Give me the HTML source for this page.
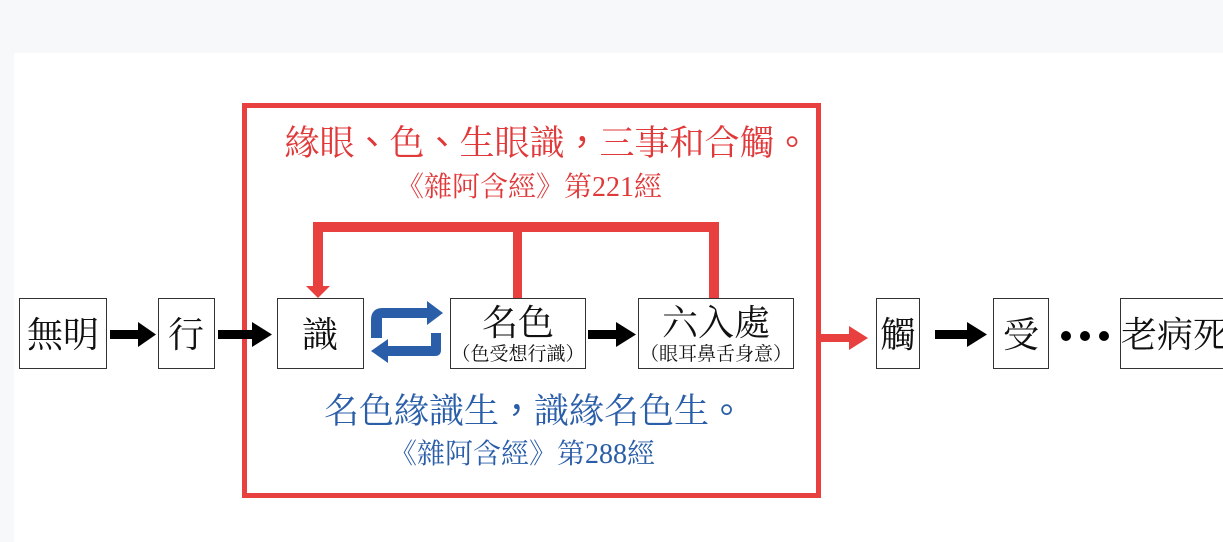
<!DOCTYPE html>
<html><head><meta charset="utf-8"><style>
html,body{margin:0;padding:0;background:#f7f8fa;}
body{width:1223px;height:542px;overflow:hidden;position:relative;}
svg{position:absolute;left:0;top:0;}
.p{font-family:"Noto Sans CJK TC",sans-serif;}
</style></head><body>
<svg width="1223" height="542" viewBox="0 0 1223 542" xmlns="http://www.w3.org/2000/svg" font-family="'Liberation Serif','Noto Serif CJK SC',serif">
<rect x="14" y="53" width="1209" height="489" fill="#fff"/>
<rect x="244.5" y="105.5" width="574" height="390" fill="none" stroke="#e8403f" stroke-width="5"/>
<text x="547" y="155" font-size="35" fill="#e0393a" text-anchor="middle">緣眼<tspan class="p">、</tspan>色<tspan class="p">、</tspan>生眼識<tspan class="p">，</tspan>三事和合觸<tspan class="p">。</tspan></text>
<text x="529" y="196" font-size="28" fill="#e0393a" text-anchor="middle">《雜阿含經》第221經</text>
<g fill="#e8403f">
<rect x="313" y="222" width="406" height="10"/>
<rect x="313" y="222" width="10" height="66"/>
<polygon points="306,286 330,286 318,298"/>
<rect x="513" y="222" width="9" height="77"/>
<rect x="709" y="222" width="10" height="77"/>
<rect x="821" y="334" width="30" height="8"/>
<polygon points="849,326 868,338 849,350"/>
</g>
<text x="534" y="423" font-size="35" fill="#2a5ea8" text-anchor="middle">名色緣識生<tspan class="p">，</tspan>識緣名色生<tspan class="p">。</tspan></text>
<text x="522" y="463" font-size="28" fill="#2a5ea8" text-anchor="middle">《雜阿含經》第288經</text>
<g fill="#fff" stroke="#333" stroke-width="1">
<rect x="19.5" y="298.5" width="87" height="70"/>
<rect x="158.5" y="298.5" width="56" height="70"/>
<rect x="277.5" y="298.5" width="86" height="70"/>
<rect x="450.5" y="298.5" width="135" height="70"/>
<rect x="638.5" y="298.5" width="155" height="70"/>
<rect x="876.5" y="298.5" width="43" height="70"/>
<rect x="993.5" y="298.5" width="55" height="70"/>
<rect x="1120.5" y="298.5" width="110" height="70"/>
</g>
<g font-size="36" fill="#111" text-anchor="middle">
<text x="63" y="347">無明</text>
<text x="186" y="347">行</text>
<text x="320" y="347">識</text>
<text x="518" y="335">名色</text>
<text x="716" y="335">六入處</text>
<text x="898" y="347">觸</text>
<text x="1021" y="347">受</text>
<text x="1175" y="347">老病死</text>
</g>
<g font-size="19" fill="#111" text-anchor="middle">
<text x="518" y="360">（色受想行識）</text>
<text x="716" y="360">（眼耳鼻舌身意）</text>
</g>
<g fill="#000">
<rect x="110" y="330" width="30" height="9"/><polygon points="138,322 156,334.5 138,347"/>
<rect x="218" y="330" width="36" height="9"/><polygon points="252,322 272,334.5 252,347"/>
<rect x="588" y="330" width="30" height="9"/><polygon points="616,322 636,334.5 616,347"/>
<rect x="935" y="330" width="34" height="9"/><polygon points="967,322 987,334.5 967,347"/>
<circle cx="1066" cy="336" r="5"/><circle cx="1085" cy="336" r="5"/><circle cx="1104" cy="336" r="5"/>
</g>
<g fill="#2a5ea8">
<path d="M371,338 V320 Q371,308 383,308 H427 V318 H382 V338 Z"/>
<polygon points="427,301 443,313 427,325"/>
<path d="M441,333 V350 Q441,356 435,356 H388 V346 H431 V333 Z"/>
<polygon points="388,339 371,351 388,363"/>
</g>
</svg>
</body></html>
